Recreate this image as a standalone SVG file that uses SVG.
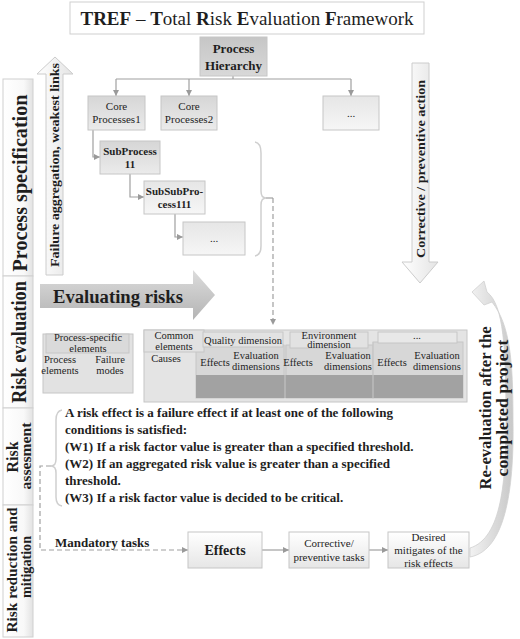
<svg xmlns="http://www.w3.org/2000/svg" width="520" height="639" viewBox="0 0 520 639">
<defs>
<linearGradient id="gBox" x1="0" y1="0" x2="0" y2="1"><stop offset="0" stop-color="#d6d6d6"/><stop offset="1" stop-color="#ebebeb"/></linearGradient>
<linearGradient id="gDark" x1="0" y1="0" x2="0" y2="1"><stop offset="0" stop-color="#c6c6c6"/><stop offset="1" stop-color="#d8d8d8"/></linearGradient>
<linearGradient id="gLight" x1="0" y1="0" x2="0" y2="1"><stop offset="0" stop-color="#e6e6e6"/><stop offset="1" stop-color="#f6f6f6"/></linearGradient>
<linearGradient id="gWhite" x1="0" y1="0" x2="0" y2="1"><stop offset="0" stop-color="#ffffff"/><stop offset="1" stop-color="#e6e6e6"/></linearGradient>
<linearGradient id="gStrip" x1="0" y1="0" x2="1" y2="0"><stop offset="0" stop-color="#ffffff"/><stop offset="0.7" stop-color="#f8f8f8"/><stop offset="1" stop-color="#e2e2e2"/></linearGradient>
<linearGradient id="gArrowV" x1="0" y1="0" x2="1" y2="0"><stop offset="0" stop-color="#ffffff"/><stop offset="1" stop-color="#e4e4e4"/></linearGradient>
<linearGradient id="gEval" x1="0" y1="0" x2="0" y2="1"><stop offset="0" stop-color="#dcdcdc"/><stop offset="1" stop-color="#b4b4b4"/></linearGradient>
<linearGradient id="gCurve" x1="0" y1="0" x2="1" y2="0"><stop offset="0" stop-color="#f2f2f2"/><stop offset="1" stop-color="#c8c8c8"/></linearGradient>
<marker id="ah" viewBox="0 0 10 10" refX="10" refY="5" markerWidth="6" markerHeight="6" markerUnits="userSpaceOnUse" orient="auto"><path d="M0,0 L10,5 L0,10 z" fill="#9a9a9a"/></marker>
</defs>
<style>
text{font-family:'Liberation Serif','Times New Roman','DejaVu Serif',serif;fill:#1e1e1e}
.b{font-weight:bold}
.box{stroke:#c6c6c6;stroke-width:1}
.ln{fill:none;stroke:#a0a0a0;stroke-width:1.2}
.dash{fill:none;stroke:#a0a0a0;stroke-width:1.2;stroke-dasharray:5,3}
.brace{fill:none;stroke:#cfcfcf;stroke-width:1.5}
.strip{fill:url(#gStrip);stroke:#d0d0d0;stroke-width:1}
.t11{font-size:11px;text-anchor:middle}
.t10{font-size:10.5px;text-anchor:middle}
.para{font-size:13px;font-weight:bold}
</style>
<rect width="520" height="639" fill="#ffffff"/>

<g id="title">
<rect x="70" y="2" width="354" height="32" fill="#ffffff" stroke="#cfcfcf"/>
<text x="247" y="25" font-size="19" text-anchor="middle"><tspan class="b">TREF</tspan> – <tspan class="b">T</tspan>otal <tspan class="b">R</tspan>isk <tspan class="b">E</tspan>valuation <tspan class="b">F</tspan>ramework</text>
</g>

<g id="strips">
<rect class="strip" x="3" y="79" width="30" height="197"/>
<rect class="strip" x="3" y="276" width="30" height="132"/>
<rect class="strip" x="3" y="408" width="30" height="97"/>
<rect class="strip" x="3" y="505" width="30" height="132"/>
<text class="b" font-size="20" text-anchor="middle" transform="translate(27,183) rotate(-90)" textLength="177" lengthAdjust="spacingAndGlyphs">Process specification</text>
<text class="b" font-size="20" text-anchor="middle" transform="translate(26,342) rotate(-90)" textLength="122" lengthAdjust="spacingAndGlyphs">Risk evaluation</text>
<text class="b" font-size="16" text-anchor="middle" transform="translate(18,457) rotate(-90)">Risk</text>
<text class="b" font-size="14" text-anchor="middle" transform="translate(31,456) rotate(-90)" textLength="67" lengthAdjust="spacingAndGlyphs">assesment</text>
<text class="b" font-size="15" text-anchor="middle" transform="translate(17,570) rotate(-90)" textLength="125" lengthAdjust="spacingAndGlyphs">Risk reduction and</text>
<text class="b" font-size="15" text-anchor="middle" transform="translate(31,567) rotate(-90)" textLength="62" lengthAdjust="spacingAndGlyphs">mitigation</text>
</g>

<g id="arrow-aggregation">
<path d="M55,57 L73,74 L63,74 L63,275 L46,275 L46,74 L37,74 Z" fill="url(#gArrowV)" stroke="#cccccc"/>
<text class="b" font-size="13.5" text-anchor="middle" transform="translate(59,165) rotate(-90)" textLength="204" lengthAdjust="spacingAndGlyphs">Failure aggregation, weakest links</text>
</g>

<g id="arrow-corrective">
<path d="M412,63 L429,63 L429,262 L438,262 L420,283 L402,262 L412,262 Z" fill="url(#gArrowV)" stroke="#cccccc"/>
<text class="b" font-size="13.5" text-anchor="middle" transform="translate(425,169) rotate(-90)" textLength="178" lengthAdjust="spacingAndGlyphs">Corrective / preventive action</text>
</g>

<g id="arrow-evaluating">
<path d="M40,284 L193,284 L193,270 L215,295 L193,320 L193,308 L40,308 Z" fill="url(#gEval)"/>
<text class="b" x="53" y="303" font-size="18.5" textLength="130" lengthAdjust="spacingAndGlyphs">Evaluating risks</text>
</g>

<g id="arrow-reevaluation">
<path d="M470,557 C508,550 514,480 513,420 C513,360 510,325 492,302 L484,305 L472,292 L484,281 L487,292 C504,305 506,350 506,420 C506,480 502,538 470,548 Z" fill="url(#gCurve)" stroke="#d0d0d0" stroke-width="0.8"/>
<text class="b" font-size="16.5" text-anchor="middle" transform="translate(491,408) rotate(-90)" textLength="163" lengthAdjust="spacingAndGlyphs">Re-evaluation after the</text>
<text class="b" font-size="16.5" text-anchor="middle" transform="translate(508,408) rotate(-90)" textLength="137" lengthAdjust="spacingAndGlyphs">completed  project</text>
</g>

<g id="connectors">
<path class="ln" d="M233,76 V79"/>
<path class="ln" d="M116,79 H351"/>
<path class="ln" d="M116,79 V96" marker-end="url(#ah)"/>
<path class="ln" d="M189,79 V96" marker-end="url(#ah)"/>
<path class="ln" d="M351,79 V96" marker-end="url(#ah)"/>
<path class="ln" d="M93,130 V157 H100" marker-end="url(#ah)"/>
<path class="ln" d="M130,174 V197 H144" marker-end="url(#ah)"/>
<path class="ln" d="M175,214 V237 H183" marker-end="url(#ah)"/>
<path class="brace" d="M255,142 Q261,143 261,153 L261,191 Q261,198 266,198 Q261,198 261,205 L261,246 Q261,255 255,256"/>
<path class="ln" d="M266,198 H273"/>
<path class="dash" d="M273,198 V325" marker-end="url(#ah)"/>
<path class="brace" d="M62,410 Q56,411 56,420 L56,459 Q56,466 51,466 Q56,466 56,473 L56,497 Q56,505 62,506"/>
<path class="dash" d="M51,466 H40 V550 H188" marker-end="url(#ah)"/>
<path class="ln" d="M262,550 H289" marker-end="url(#ah)"/>
<path class="ln" d="M369,550 H388" marker-end="url(#ah)"/>
</g>

<g id="process-hierarchy">
<rect class="box" x="200" y="37" width="67" height="39" fill="url(#gDark)"/>
<text class="b" x="233.5" y="53" font-size="13" text-anchor="middle">Process</text>
<text class="b" x="233.5" y="70" font-size="13" text-anchor="middle">Hierarchy</text>
</g>
<g id="core-processes1">
<rect class="box" x="88" y="96" width="57" height="34" fill="url(#gBox)"/>
<text class="t11" x="116.5" y="110">Core</text>
<text class="t11" x="116.5" y="123">Processes1</text>
</g>
<g id="core-processes2">
<rect class="box" x="161" y="96" width="56" height="34" fill="url(#gBox)"/>
<text class="t11" x="189" y="110">Core</text>
<text class="t11" x="189" y="123">Processes2</text>
</g>
<g id="core-more">
<rect class="box" x="323" y="96" width="56" height="34" fill="url(#gLight)"/>
<text class="t11" x="351" y="117">...</text>
</g>
<g id="subprocess11">
<rect class="box" x="100" y="141" width="60" height="33" fill="url(#gBox)"/>
<text class="t11 b" x="130" y="155">SubProcess</text>
<text class="t11 b" x="130" y="168">11</text>
</g>
<g id="subsubprocess111">
<rect class="box" x="144" y="181" width="61" height="33" fill="url(#gLight)"/>
<text class="t11 b" x="174.5" y="195">SubSubPro-</text>
<text class="t11 b" x="174.5" y="208">cess111</text>
</g>
<g id="sub-more">
<rect class="box" x="183" y="222" width="62" height="33" fill="url(#gLight)"/>
<text class="t11" x="214" y="242">...</text>
</g>

<g id="process-specific-elements">
<rect class="box" x="43" y="334" width="90" height="59" fill="#e2e2e2"/>
<rect class="box" x="46" y="334" width="83" height="19" fill="#dadada"/>
<text class="t10" x="88" y="341">Process-specific</text>
<text class="t10" x="88" y="352">elements</text>
<text class="t10" x="60" y="363">Process</text>
<text class="t10" x="60" y="374">elements</text>
<text class="t10" x="110" y="363">Failure</text>
<text class="t10" x="110" y="374">modes</text>
</g>

<g id="dimension-table">
<rect class="box" x="144" y="330" width="323" height="72" fill="#e4e4e4"/>
<rect class="box" x="196" y="345" width="88" height="53" fill="#d7d7d7"/>
<rect class="box" x="286" y="345" width="87" height="53" fill="#d7d7d7"/>
<rect class="box" x="373" y="342" width="90" height="56" fill="#d7d7d7"/>
<rect x="196" y="375" width="267" height="23" fill="#a2a2a2"/>
<line x1="285" y1="345" x2="285" y2="398" stroke="#c8c8c8"/>
<line x1="373" y1="342" x2="373" y2="398" stroke="#c8c8c8"/>
<rect class="box" x="144" y="330" width="60" height="22" fill="#e2e2e2"/>
<text class="t10" x="174" y="339">Common</text>
<text class="t10" x="174" y="350">elements</text>
<text class="t10" x="166" y="362">Causes</text>
<rect class="box" x="203" y="332" width="80" height="15" fill="#e2e2e2"/>
<text class="t10" x="243" y="343.5">Quality dimension</text>
<text class="t10" x="215" y="366">Effects</text>
<text class="t10" x="256" y="359">Evaluation</text>
<text class="t10" x="256" y="370">dimensions</text>
<rect class="box" x="290" y="332" width="78" height="16" fill="#e2e2e2"/>
<text class="t10" x="329" y="338.5">Environment</text>
<text class="t10" x="329" y="348">dimension</text>
<text class="t10" x="298" y="366">Effects</text>
<text class="t10" x="348" y="359">Evaluation</text>
<text class="t10" x="348" y="370">dimensions</text>
<rect class="box" x="378" y="332" width="79" height="11" fill="#e8e8e8"/>
<text class="t10" x="417" y="339" fill="#888">...</text>
<text class="t10" x="392" y="366">Effects</text>
<text class="t10" x="437" y="359">Evaluation</text>
<text class="t10" x="437" y="370">dimensions</text>
</g>

<g id="conditions">
<text class="para" x="65" y="417">A risk effect is a failure effect if at least one of the following</text>
<text class="para" x="65" y="434">conditions is satisfied:</text>
<text class="para" x="65" y="451">(W1) If a risk factor value is greater than a specified threshold.</text>
<text class="para" x="65" y="468">(W2) If an aggregated risk value is greater than a specified</text>
<text class="para" x="65" y="485">threshold.</text>
<text class="para" x="65" y="502">(W3) If a risk factor value is decided to be critical.</text>
</g>

<g id="mandatory-label">
<text class="b" x="55" y="547" font-size="13">Mandatory tasks</text>
</g>
<g id="effects">
<rect class="box" x="188" y="532" width="74" height="36" fill="url(#gWhite)"/>
<text class="b" x="225" y="555" font-size="14" text-anchor="middle">Effects</text>
</g>
<g id="corrective-tasks">
<rect class="box" x="289" y="532" width="80" height="36" fill="url(#gWhite)"/>
<text class="t11" x="329" y="547">Corrective/</text>
<text class="t11" x="329" y="561">preventive tasks</text>
</g>
<g id="desired-mitigates">
<rect class="box" x="388" y="532" width="81" height="36" fill="url(#gWhite)"/>
<text class="t11" x="428.5" y="541">Desired</text>
<text class="t11" x="428.5" y="554">mitigates of the</text>
<text class="t11" x="428.5" y="567">risk effects</text>
</g>
</svg>
